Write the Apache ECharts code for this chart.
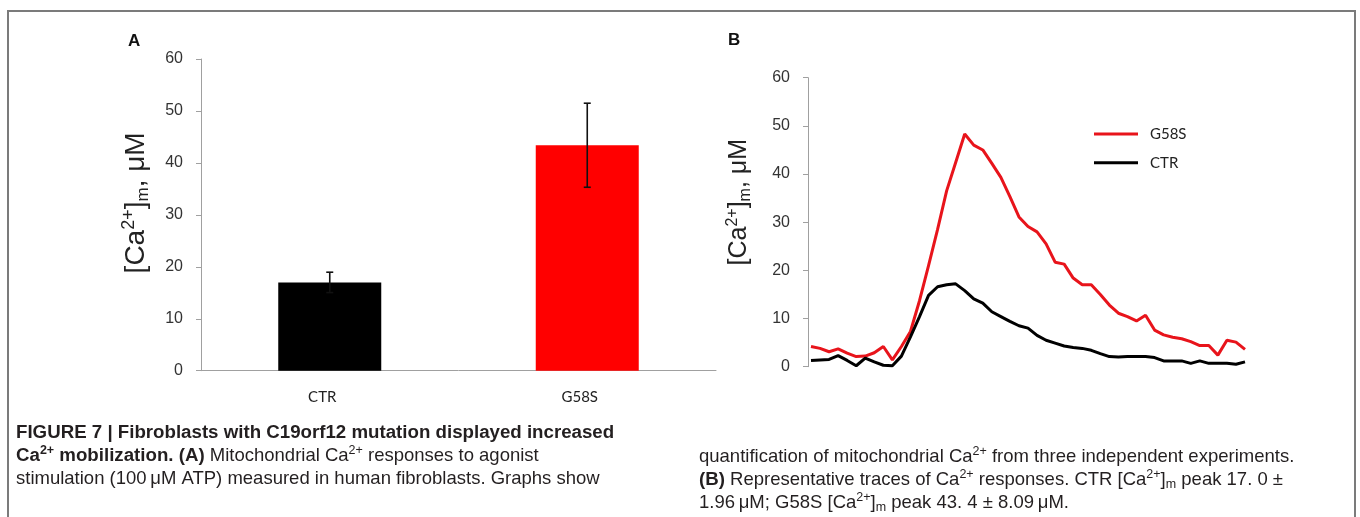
<!DOCTYPE html>
<html><head><meta charset="utf-8">
<script src="https://cdn.jsdelivr.net/npm/echarts@6/dist/echarts.min.js"></script>
<style>html,body{margin:0;padding:0;background:#fff}#c{width:1360px;height:517px}</style>
</head><body><div id="c"></div>
<script>
// Panel A: bar chart
const groups = ['CTR', 'G58S'];
const meanValues = [17.0, 43.4];
const errValues = [1.96, 8.09];
const barColors = ['#000000', '#ff0000'];

// Panel B: representative traces (frame index on hidden x axis)
const frames = [0,1,2,3,4,5,6,7,8,9,10,11,12,13,14,15,16,17,18,19,20,21,22,23,24,25,26,27,28,29,30,31,32,33,34,35,36,37,38,39,40,41,42,43,44,45,46,47,48];
const g58sTrace = [4.2,3.8,3.1,3.7,2.8,2.1,2.2,2.9,4.2,1.4,4.2,7.3,13.7,21.0,28.5,36.5,42.4,48.3,46.0,45.0,42.2,39.3,35.3,31.1,29.1,28.0,25.5,21.7,21.3,18.4,17.0,17.0,15.0,12.8,11.1,10.4,9.5,10.7,7.6,6.6,6.1,5.8,5.2,4.4,4.4,2.4,5.5,5.1,3.6];
const ctrTrace = [1.3,1.4,1.5,2.3,1.3,0.2,1.8,1.0,0.3,0.2,2.2,6.2,10.4,14.8,16.6,17.0,17.2,15.8,14.1,13.2,11.4,10.4,9.4,8.5,8.0,6.5,5.5,4.9,4.3,4.0,3.8,3.4,2.7,2.1,2.0,2.1,2.1,2.1,1.9,1.2,1.2,1.2,0.7,1.2,0.7,0.7,0.7,0.5,1.0];
const traceNames = ['G58S', 'CTR'];
const traceColors = ['#e8141b', '#000000'];

const SANS = 'Liberation Sans';
const capFont = 'Liberation Sans';
const capSize = 18.5;
const capColor = '#231f20';
const capRich = {
  b: {fontFamily: capFont, fontSize: 18.7, fontWeight: 'bold', color: capColor, lineHeight: 23},
  r: {fontFamily: capFont, fontSize: capSize, fontWeight: 'normal', color: capColor, lineHeight: 23},
  s: {fontFamily: capFont, fontSize: 12.5, fontWeight: 'normal', color: capColor, lineHeight: 14, verticalAlign: 'top'},
  bs: {fontFamily: capFont, fontSize: 12.5, fontWeight: 'bold', color: capColor, lineHeight: 14, verticalAlign: 'top'},
  sub: {fontFamily: capFont, fontSize: 12.5, fontWeight: 'normal', color: capColor, lineHeight: 10, verticalAlign: 'bottom'}
};
const leftCaption = [
  '{b|FIGURE 7 | Fibroblasts with C19orf12 mutation displayed increased}',
  '{b|Ca}{bs|2+}{b| mobilization. (A)}{r| Mitochondrial Ca}{s|2+}{r| responses to agonist}',
  '{r|stimulation (100\u2009\u03bcM ATP) measured in human fibroblasts. Graphs show}'
].join('\n');
const rightCaption = [
  '{r|quantification of mitochondrial Ca}{s|2+}{r| from three independent experiments.}',
  '{b|(B)}{r| Representative traces of Ca}{s|2+}{r| responses. CTR [Ca}{s|2+}{r|]}{sub|m}{r| peak 17. 0 \u00b1}',
  '{r|1.96\u2009\u03bcM; G58S [Ca}{s|2+}{r|]}{sub|m}{r| peak 43. 4 \u00b1 8.09\u2009\u03bcM.}'
].join('\n');

function yName(size, shift) {
  return {
    fontFamily: SANS, fontSize: size, fontWeight: 'normal', color: '#222', lineHeight: size + 4,
    padding: [0, 0, 0, shift],
    rich: {
      n: {fontFamily: SANS, fontSize: size, fontWeight: 'normal', color: '#222', lineHeight: size + 4},
      sup: {fontFamily: SANS, fontSize: Math.round(size * 0.65), fontWeight: 'normal', color: '#222', lineHeight: Math.round(size * 0.7), verticalAlign: 'top'},
      sub: {fontFamily: SANS, fontSize: Math.round(size * 0.62), fontWeight: 'normal', color: '#222', lineHeight: Math.round(size * 0.45), verticalAlign: 'bottom'}
    }
  };
}
const yTitle = '{n|[Ca}{sup|2+}{n|]}{sub|m}{n|, \u03bcM}';

const axisGray = '#a0a0a0';
function valueAxis(gridIndex, extra) {
  return Object.assign({
    gridIndex: gridIndex, type: 'value', min: 0, max: 60, interval: 10,
    axisLine: {show: true, lineStyle: {color: axisGray, width: 1}},
    axisTick: {show: true, length: 5, lineStyle: {color: axisGray}},
    splitLine: {show: false},
    axisLabel: {fontFamily: SANS, fontSize: 16, color: '#333', margin: 18},
    name: yTitle, nameLocation: 'middle', nameRotate: 90
  }, extra);
}

const chart = echarts.init(document.getElementById('c'), null, {renderer: 'canvas'});
chart.setOption({
  animation: false,
  backgroundColor: '#ffffff',
  graphic: [{
    type: 'rect', silent: true, z: -10,
    shape: {x: 8, y: 11, width: 1347, height: 540},
    style: {fill: 'none', stroke: '#7b7b7b', lineWidth: 2}
  }],
  title: [
    {text: 'A', left: 128, top: 33, padding: 0, textStyle: {fontFamily: SANS, fontSize: 17, fontWeight: 'bold', color: '#111'}},
    {text: 'B', left: 728, top: 32, padding: 0, textStyle: {fontFamily: SANS, fontSize: 17, fontWeight: 'bold', color: '#111'}},
    {text: leftCaption, left: 16, top: 421, padding: 0, textStyle: {fontFamily: capFont, fontSize: capSize, fontWeight: 'normal', lineHeight: 23, color: capColor, rich: capRich}},
    {text: rightCaption, left: 699, top: 445, padding: 0, textStyle: {fontFamily: capFont, fontSize: capSize, fontWeight: 'normal', lineHeight: 23, color: capColor, rich: capRich}}
  ],
  legend: {
    data: traceNames, orient: 'vertical', left: 1094, top: 125, padding: 0,
    icon: 'rect', itemWidth: 44, itemHeight: 3, itemGap: 10.7,
    textStyle: {fontFamily: 'Lato', fontSize: 15, color: '#222', lineHeight: 18, padding: [0, 0, 0, 7]}
  },
  grid: [
    {left: 201, top: 59, width: 515, height: 311.7},
    {left: 811, top: 77.7, width: 434, height: 289}
  ],
  xAxis: [
    {gridIndex: 0, type: 'category', data: groups,
     axisLine: {show: true, lineStyle: {color: axisGray, width: 1}},
     axisTick: {show: false},
     axisLabel: {fontFamily: 'Lato', fontSize: 15, color: '#222', margin: 19, padding: [0, 15, 0, 0]}},
    {gridIndex: 1, type: 'category', data: frames, boundaryGap: false, show: false}
  ],
  yAxis: [
    valueAxis(0, {nameGap: 49, nameTextStyle: yName(28, 24)}),
    valueAxis(1, {offset: 3, nameGap: 54, nameTextStyle: yName(25, 40)})
  ],
  series: [
    {type: 'bar', xAxisIndex: 0, yAxisIndex: 0, barWidth: 103,
     data: meanValues.map((v, i) => ({value: v, itemStyle: {color: barColors[i]}}))},
    {type: 'custom', xAxisIndex: 0, yAxisIndex: 0, z: 5,
     data: meanValues.map((v, i) => [i, v, errValues[i]]),
     encode: {x: 0, y: 1},
     renderItem: function (params, api) {
       const i = api.value(0), m = api.value(1), e = api.value(2);
       const top = api.coord([i, m + e]);
       const bot = api.coord([i, m - e]);
       const h = 3.5;
       const st = {stroke: '#111', lineWidth: 1.6};
       return {type: 'group', children: [
         {type: 'line', shape: {x1: top[0], y1: top[1], x2: bot[0], y2: bot[1]}, style: st},
         {type: 'line', shape: {x1: top[0] - h, y1: top[1], x2: top[0] + h, y2: top[1]}, style: st},
         {type: 'line', shape: {x1: bot[0] - h, y1: bot[1], x2: bot[0] + h, y2: bot[1]}, style: st}
       ]};
     }},
    {type: 'line', name: traceNames[0], xAxisIndex: 1, yAxisIndex: 1, data: g58sTrace,
     symbol: 'none', showSymbol: false, color: traceColors[0], lineStyle: {width: 3, color: traceColors[0]}},
    {type: 'line', name: traceNames[1], xAxisIndex: 1, yAxisIndex: 1, data: ctrTrace,
     symbol: 'none', showSymbol: false, color: traceColors[1], lineStyle: {width: 3, color: traceColors[1]}}
  ]
});
</script>
</body></html>
